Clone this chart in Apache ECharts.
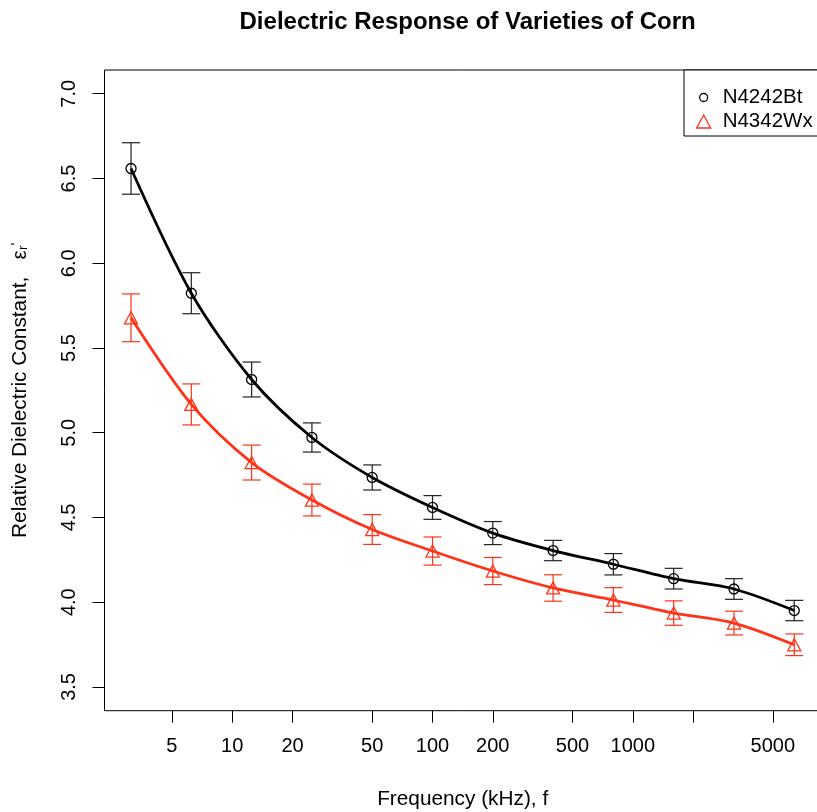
<!DOCTYPE html>
<html>
<head>
<meta charset="utf-8">
<script src="https://cdn.jsdelivr.net/npm/echarts@6/dist/echarts.min.js"></script>
<style>
html,body{margin:0;padding:0;background:#fff;}
#chart{width:817px;height:812px;}
</style>
</head>
<body>
<div id="chart"></div>
<script>
// Frequencies (kHz)
const freq = [3.125, 6.25, 12.5, 25, 50, 100, 200, 400, 800, 1600, 3200, 6400];
// N4242Bt relative dielectric constant and error half-widths
const bt    = [6.559, 5.823, 5.314, 4.972, 4.736, 4.559, 4.408, 4.305, 4.224, 4.139, 4.078, 3.951];
const btErr = [0.152, 0.121, 0.103, 0.086, 0.074, 0.070, 0.068, 0.060, 0.063, 0.061, 0.061, 0.060];
// N4342Wx
const wx    = [5.678, 5.167, 4.824, 4.603, 4.429, 4.302, 4.184, 4.084, 4.013, 3.936, 3.877, 3.749];
const wxErr = [0.141, 0.121, 0.103, 0.094, 0.088, 0.083, 0.080, 0.078, 0.073, 0.072, 0.070, 0.064];
// Axis ticks
const xTickValues  = [5, 10, 20, 50, 100, 200, 500, 1000, 2000, 5000];
const xLabelValues = [5, 10, 20, 50, 100, 200, 500, 1000, 5000];
const yTickValues  = [3.5, 4.0, 4.5, 5.0, 5.5, 6.0, 6.5, 7.0];
const seriesNames = ['N4242Bt', 'N4342Wx'];

const BLACK = '#000000';
const RED = '#ff3318';
const FONT = '"Liberation Sans", Arial, Helvetica, sans-serif';

const lx = v => Math.log10(v);
const lineData = (ys) => freq.map((f, i) => [lx(f), ys[i]]);
const errData = (ys, es) => freq.map((f, i) => [lx(f), ys[i] - es[i], ys[i] + es[i]]);

function errRenderer(color) {
  return function (params, api) {
    const x = api.value(0);
    const pLo = api.coord([x, api.value(1)]);
    const pHi = api.coord([x, api.value(2)]);
    const hw = 9;
    const st = { stroke: color, lineWidth: 1.2 };
    return {
      type: 'group',
      children: [
        { type: 'line', shape: { x1: pLo[0], y1: pLo[1], x2: pHi[0], y2: pHi[1] }, style: st },
        { type: 'line', shape: { x1: pLo[0] - hw, y1: pLo[1], x2: pLo[0] + hw, y2: pLo[1] }, style: st },
        { type: 'line', shape: { x1: pHi[0] - hw, y1: pHi[1], x2: pHi[0] + hw, y2: pHi[1] }, style: st }
      ]
    };
  };
}

const chart = echarts.init(document.getElementById('chart'), null, { renderer: 'canvas' });

const option = {
  animation: false,
  backgroundColor: '#ffffff',
  textStyle: { fontFamily: FONT },
  title: {
    text: 'Dielectric Response of Varieties of Corn',
    left: 462.6,
    textAlign: 'center',
    top: 5,
    textStyle: { fontFamily: FONT, fontSize: 24, fontWeight: 'bold', color: '#000' }
  },
  legend: [
    {
      orient: 'vertical',
      left: 684,
      top: 70,
      padding: [17, 21, 28, 15],
      itemWidth: 8,
      itemHeight: 8,
      selectedMode: false,
      borderColor: '#000',
      borderWidth: 1,
      backgroundColor: '#fff',
      textStyle: { fontFamily: FONT, fontSize: 20.5, color: '#000', padding: [0, 0, 0, 10] },
      data: [{ name: seriesNames[0], icon: 'circle',
               itemStyle: { color: 'rgba(0,0,0,0)', borderColor: BLACK, borderWidth: 1.3 } }]
    },
    {
      orient: 'vertical',
      left: 696,
      top: 111,
      padding: 0,
      itemWidth: 14,
      itemHeight: 13,
      selectedMode: false,
      textStyle: { fontFamily: FONT, fontSize: 20.5, color: '#000', padding: [0, 0, 0, 7] },
      data: [{ name: seriesNames[1], icon: 'triangle',
               itemStyle: { color: 'rgba(0,0,0,0)', borderColor: RED, borderWidth: 1.3 } }]
    }
  ],
  grid: {
    show: true,
    left: 104.5,
    top: 70,
    width: 716.3,
    height: 640.7,
    borderColor: '#000',
    borderWidth: 1,
    containLabel: false,
    outerBoundsMode: 'none'
  },
  xAxis: {
    type: 'value',
    min: 0.3624,
    max: 3.9386,
    name: 'Frequency (kHz), f',
    nameLocation: 'middle',
    nameGap: 78,
    nameTextStyle: { fontFamily: FONT, fontSize: 20.8, color: '#000' },
    axisLine: { show: false },
    axisTick: { show: true, length: 12, lineStyle: { color: '#000', width: 1 },
                customValues: xTickValues.map(lx) },
    axisLabel: {
      fontFamily: FONT, fontSize: 20, color: '#000', margin: 26,
      customValues: xLabelValues.map(lx),
      formatter: v => String(Math.round(Math.pow(10, v)))
    },
    splitLine: { show: false }
  },
  yAxis: {
    type: 'value',
    min: 3.36,
    max: 7.14,
    name: '{a|Relative Dielectric Constant,   ε}{b|r}{c|\'}',
    nameLocation: 'middle',
    nameGap: 74,
    nameTextStyle: {
      fontFamily: FONT, fontSize: 20.8, color: '#000',
      rich: {
        a: { fontFamily: FONT, fontSize: 20.8, lineHeight: 21, color: '#000' },
        b: { fontFamily: FONT, fontSize: 13.5, lineHeight: 6, verticalAlign: 'bottom', color: '#000' },
        c: { fontFamily: FONT, fontSize: 15, lineHeight: 8, verticalAlign: 'top', color: '#000' }
      }
    },
    axisLine: { show: false },
    axisTick: { show: true, length: 12, lineStyle: { color: '#000', width: 1 },
                customValues: yTickValues },
    axisLabel: {
      fontFamily: FONT, fontSize: 20, color: '#000', rotate: 90, margin: 25,
      customValues: yTickValues,
      formatter: v => v.toFixed(1)
    },
    splitLine: { show: false }
  },
  series: [
    {
      name: seriesNames[0],
      type: 'line',
      data: lineData(bt),
      smooth: 0.3,
      symbol: 'circle',
      symbolSize: 10,
      showAllSymbol: true,
      lineStyle: { color: BLACK, width: 2.8 },
      itemStyle: { color: 'rgba(0,0,0,0)', borderColor: BLACK, borderWidth: 1.3 },
      z: 3
    },
    {
      name: seriesNames[1],
      type: 'line',
      data: lineData(wx),
      smooth: 0.3,
      symbol: 'triangle',
      symbolSize: [13, 12],
      showAllSymbol: true,
      lineStyle: { color: RED, width: 2.8 },
      itemStyle: { color: 'rgba(0,0,0,0)', borderColor: RED, borderWidth: 1.3 },
      z: 3
    },
    {
      name: seriesNames[0] + ' err',
      type: 'custom',
      data: errData(bt, btErr),
      encode: { x: 0, y: [1, 2] },
      renderItem: errRenderer('#222222'),
      z: 2,
      silent: true
    },
    {
      name: seriesNames[1] + ' err',
      type: 'custom',
      data: errData(wx, wxErr),
      encode: { x: 0, y: [1, 2] },
      renderItem: errRenderer(RED),
      z: 2,
      silent: true
    }
  ]
};

chart.setOption(option);
</script>
</body>
</html>
